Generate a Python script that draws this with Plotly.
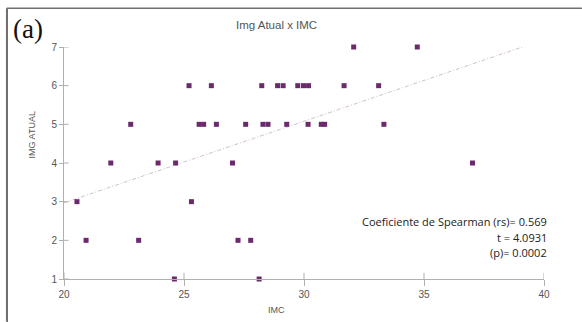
import plotly.graph_objects as go

# Data
imc = [32.07, 34.72,
       25.21, 26.14, 28.24, 28.90, 29.13, 29.74, 29.98, 30.19, 31.67, 33.11,
       22.78, 25.63, 25.82, 26.35, 27.57, 28.29, 28.50, 29.28, 30.17, 30.72, 30.86, 33.33,
       21.95, 23.92, 24.65, 27.02, 37.02,
       20.54, 25.31,
       20.92, 23.11, 27.25, 27.78,
       24.60, 28.13]
img_atual = [7, 7,
             6, 6, 6, 6, 6, 6, 6, 6, 6, 6,
             5, 5, 5, 5, 5, 5, 5, 5, 5, 5, 5, 5,
             4, 4, 4, 4, 4,
             3, 3,
             2, 2, 2, 2,
             1, 1]
trend_x = [20.0, 39.1]
trend_y = [2.97, 7.0]
x_ticks = [20, 25, 30, 35, 40]
y_ticks = [1, 2, 3, 4, 5, 6, 7]
stats_lines = ["Coeficiente de Spearman (rs)= 0.569", "t = 4.0931", "(p)= 0.0002"]

W, H = 582, 322
L, R, T, B = 64.3, 544.3, 47.3, 279.3
pw, ph = R - L, B - T

def px(x):
    return (x - L) / pw

def py(y):
    return (B - y) / ph

fig = go.Figure()
fig.add_trace(go.Scatter(x=trend_x, y=trend_y, mode="lines",
                         line=dict(color="#d2bfcf", width=1, dash="4px,2px,1px,2px"),
                         hoverinfo="skip", showlegend=False))
fig.add_trace(go.Scatter(x=imc, y=img_atual, mode="markers",
                         marker=dict(symbol="square", size=5, color="#6a2a6c"),
                         cliponaxis=False, showlegend=False))

axis_common = dict(showgrid=False, zeroline=False, showline=True, linecolor="#b0b0b0",
                   linewidth=1, ticks="outside", tickcolor="#b0b0b0", tickwidth=1,
                   tickfont=dict(family="Liberation Sans, Arial", size=10, color="#555"))
fig.update_xaxes(range=[20, 40], tickvals=x_ticks, ticklen=6, **axis_common)
fig.update_yaxes(range=[1, 7], tickvals=y_ticks, ticklen=4, **axis_common)

shapes = [
    dict(type="line", xref="paper", yref="paper", x0=px(7), x1=px(582), y0=py(8.5), y1=py(8.5),
         line=dict(color="#707070", width=1.5)),
    dict(type="line", xref="paper", yref="paper", x0=px(7), x1=px(7), y0=py(8.5), y1=py(322),
         line=dict(color="#707070", width=1.5)),
]
for xv in x_ticks:
    shapes.append(dict(type="line", xref="x", yref="paper", x0=xv, x1=xv, y0=0, y1=py(273),
                       line=dict(color="#b0b0b0", width=1)))
for yv in y_ticks:
    shapes.append(dict(type="line", xref="paper", yref="y", x0=0, x1=px(69), y0=yv, y1=yv,
                       line=dict(color="#b0b0b0", width=1)))

annotations = [
    dict(text="(a)", xref="paper", yref="paper", x=px(11), y=py(29), xanchor="left", yanchor="middle",
         showarrow=False, font=dict(family="Liberation Serif, Times New Roman", size=27, color="#111")),
    dict(text="Img Atual x IMC", xref="paper", yref="paper", x=px(276.5), y=py(25),
         xanchor="center", yanchor="middle", showarrow=False,
         font=dict(family="Liberation Sans, Arial", size=11.5, color="#555")),
    dict(text="IMG ATUAL", xref="paper", yref="paper", x=px(32), y=py(135), textangle=-90,
         xanchor="center", yanchor="middle", showarrow=False,
         font=dict(family="Liberation Sans, Arial", size=9, color="#555")),
    dict(text="IMC", xref="paper", yref="paper", x=px(276.5), y=py(310.5),
         xanchor="center", yanchor="middle", showarrow=False,
         font=dict(family="Liberation Sans, Arial", size=9, color="#555")),
]
for i, line in enumerate(stats_lines):
    annotations.append(dict(text=line, xref="paper", yref="paper", x=px(549), y=py(222 + 15.5 * i),
                            xanchor="right", yanchor="middle", showarrow=False,
                            font=dict(family="Open Sans", size=11, color="#222")))

fig.update_layout(
    width=W, height=H,
    margin=dict(l=L, r=W - R, t=T, b=H - B, pad=0),
    plot_bgcolor="white", paper_bgcolor="white",
    shapes=shapes, annotations=annotations,
)

frame_js = (
    "document.body.style.margin='0';document.body.style.overflow='hidden';"
    "var f=document.createElement('div');"
    "f.style.cssText='position:absolute;left:7px;top:8px;width:700px;height:500px;"
    "border-top:1.5px solid #707070;border-left:1.5px solid #707070;pointer-events:none;z-index:10;';"
    "document.body.appendChild(f);"
)
fig.write_html("out.html", config={"displayModeBar": False}, post_script=frame_js)
